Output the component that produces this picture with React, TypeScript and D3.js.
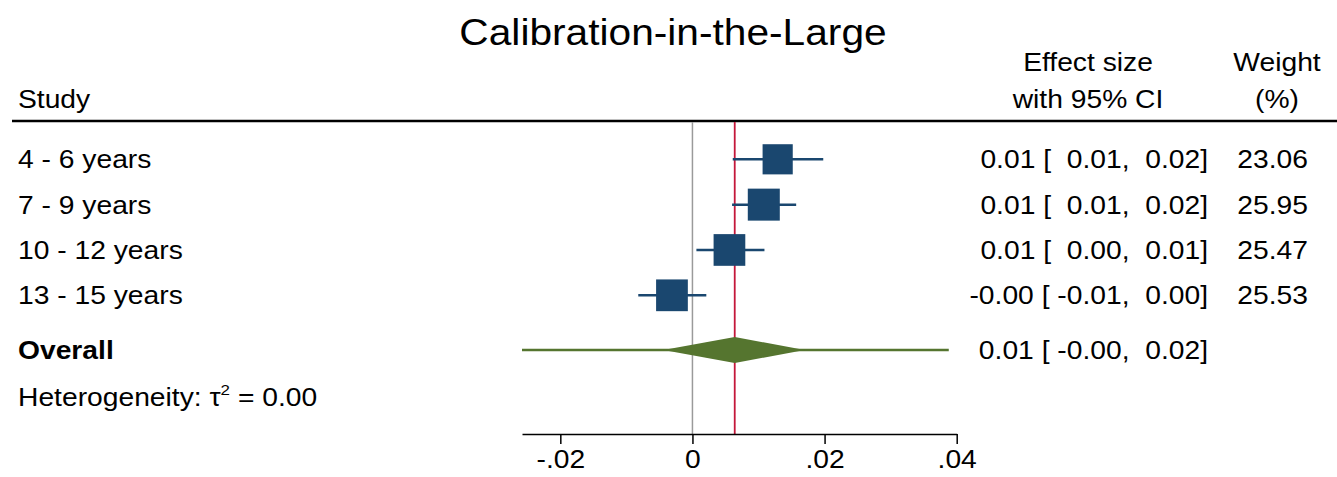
import React, { useEffect, useRef } from "react"
import * as d3 from "d3"

const title = "Calibration-in-the-Large"
const studies = ["4 - 6 years", "7 - 9 years", "10 - 12 years", "13 - 15 years"]
const effect = [0.0129, 0.0108, 0.0056, -0.0031]
const ciLow = [0.0061, 0.006, 0.0006, -0.0082]
const ciHigh = [0.0198, 0.0157, 0.0109, 0.0021]
const weights = [23.06, 25.95, 25.47, 25.53]
const overall = { es: 0.0064, lo: -0.0044, hi: 0.017, piLo: -0.0258, piHi: 0.0388 }
const tau2 = 0.0
const tickValues = [-0.02, 0, 0.02, 0.04]
const tickLabels = ["-.02", "0", ".02", ".04"]

const W = 1337
const H = 477
const SX = 1.13
const FONT = "'Liberation Sans', Arial, sans-serif"

const navy = "#1a476f"
const olive = "#55752f"
const red = "#c4173b"

// stata-ish %6.2f
const pad = (v: number) => {
  const s = v.toFixed(2)
  return " ".repeat(Math.max(0, 6 - s.length)) + s
}
const ciText = (e: number, l: number, h: number) => `${e.toFixed(2)} [${pad(l)},${pad(h)}]`

const T = ({ x, y, size = 25, anchor = "start", bold = false, children }: any) => (
  <text
    transform={`translate(${x},${y}) scale(${SX},1)`}
    textAnchor={anchor}
    fontSize={size}
    fontWeight={bold ? "bold" : "normal"}
    fontFamily={FONT}
    fill="#000"
    style={{ whiteSpace: "pre" }}
  >
    {children}
  </text>
)

export default function App() {
  const axisRef = useRef<SVGGElement>(null)

  const x = d3.scaleLinear().domain([overall.piLo, 0.04]).range([522, 956.7])
  const side = d3.scaleSqrt().domain([0, 25.95]).range([0, 32])
  const rowY = d3.scalePoint<number>().domain(d3.range(studies.length)).range([159.3, 295.3])
  const overallY = 350
  const top = 121
  const axisY = 434

  useEffect(() => {
    const g = d3.select(axisRef.current)
    g.selectAll("*").remove()
    const axis = d3
      .axisBottom(x)
      .tickValues(tickValues)
      .tickSize(10)
      .tickSizeOuter(0)
      .tickPadding(6)
      .tickFormat((d, i) => tickLabels[i])
    g.call(axis as any)
    g.select(".domain").attr("stroke", "#000").attr("stroke-width", 1.5)
    g.selectAll(".tick line").attr("stroke", "#000").attr("stroke-width", 1.5)
    g.selectAll(".tick text")
      .attr("font-size", 25)
      .attr("font-family", FONT)
      .attr("fill", "#000")
      .attr("transform", `scale(${SX},1)`)
  }, [])

  const diamond = [
    [x(overall.lo), overallY],
    [x(overall.es), overallY - 13],
    [x(overall.hi), overallY],
    [x(overall.es), overallY + 13],
  ]

  return (
    <svg width={W} height={H} style={{ position: "absolute", left: 0, top: 0, background: "#fff" }}>
      <T x={673} y={45} size={36} anchor="middle">{title}</T>

      <T x={18} y={108}>Study</T>
      <T x={1088} y={71} anchor="middle">Effect size</T>
      <T x={1088} y={108} anchor="middle">with 95% CI</T>
      <T x={1277} y={71} anchor="middle">Weight</T>
      <T x={1277} y={108} anchor="middle">(%)</T>

      <line x1={12} x2={1337} y1={top} y2={top} stroke="#000" strokeWidth={2.5} />

      <line x1={x(0)} x2={x(0)} y1={top + 1} y2={axisY} stroke="#9a9a9a" strokeWidth={1.5} />
      <line x1={x(overall.es)} x2={x(overall.es)} y1={top + 1} y2={axisY} stroke={red} strokeWidth={1.8} />

      {studies.map((s, i) => {
        const y = rowY(i)!
        const sz = side(weights[i])
        return (
          <g key={s}>
            <T x={18} y={y + 9}>{s}</T>
            <line x1={x(ciLow[i])} x2={x(ciHigh[i])} y1={y} y2={y} stroke={navy} strokeWidth={2.5} />
            <rect x={x(effect[i]) - sz / 2} y={y - sz / 2} width={sz} height={sz} fill={navy} />
            <T x={1208} y={y + 9} anchor="end">{ciText(effect[i], ciLow[i], ciHigh[i])}</T>
            <T x={1308} y={y + 9} anchor="end">{weights[i].toFixed(2)}</T>
          </g>
        )
      })}

      <T x={18} y={overallY + 9} bold>Overall</T>
      <line x1={x(overall.piLo)} x2={x(overall.piHi)} y1={overallY} y2={overallY} stroke={olive} strokeWidth={2.5} />
      <polygon points={diamond.map((p) => p.join(",")).join(" ")} fill={olive} />
      <T x={1208} y={overallY + 9} anchor="end">{ciText(overall.es, overall.lo, overall.hi)}</T>

      <text
        transform={`translate(18,${overallY + 56}) scale(${SX},1)`}
        fontSize={25}
        fontFamily={FONT}
        fill="#000"
        style={{ whiteSpace: "pre" }}
      >
        Heterogeneity: τ
        <tspan fontSize={15} dy={-11}>2</tspan>
        <tspan dy={11}> = {tau2.toFixed(2)}</tspan>
      </text>

      <g ref={axisRef} transform={`translate(0,${axisY})`} />
    </svg>
  )
}
